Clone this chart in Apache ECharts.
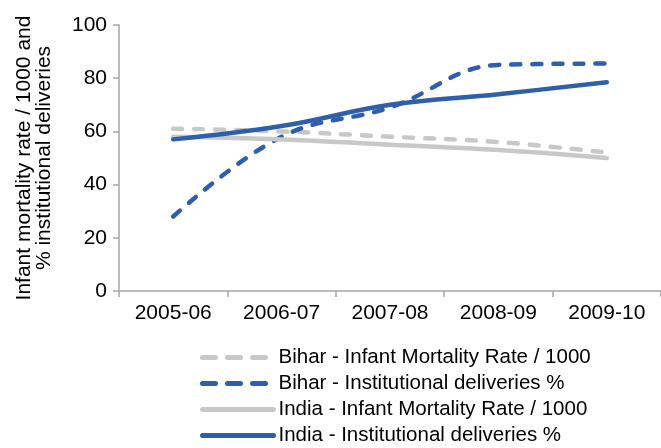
<!DOCTYPE html>
<html>
<head>
<meta charset="utf-8">
<script src="https://cdn.jsdelivr.net/npm/echarts@6/dist/echarts.min.js"></script>
<style>
  html, body { margin: 0; padding: 0; background: #fff; }
  #chart { width: 661px; height: 448px; }
</style>
</head>
<body>
<div id="chart"></div>
<script>
const years = ['2005-06', '2006-07', '2007-08', '2008-09', '2009-10'];
const biharImr = [61, 60, 58, 56, 52];
const biharInst = [28, 58, 69, 85, 85.5];
const indiaImr = [58, 57, 55, 53, 50];
const indiaInst = [57, 62, 70, 74, 78.5];

const GREY = '#c8c8c8';
const BLUE = '#2f5faa';
const FONT = 'Liberation Sans, Arial, sans-serif';

const mkLine = (name, data, color, dashed) => ({
    name,
    type: 'line',
    data,
    smooth: 0.4,
    symbol: 'none',
    lineStyle: {
        color,
        width: 4.5,
        type: dashed ? [9, 12] : 'solid',
        cap: 'round',
    },
    itemStyle: { color },
});

const legendDash = { type: [13, 12], width: 5, cap: 'round' };

const chart = echarts.init(document.getElementById('chart'));
chart.setOption({
    animation: false,
    textStyle: { fontFamily: FONT, color: '#000' },
    grid: { left: 119, right: 0, top: 25, bottom: 157, containLabel: false },
    legend: {
        orient: 'vertical',
        left: 200,
        top: 347,
        height: 120,
        padding: 0,
        itemWidth: 71,
        itemHeight: 20,
        itemGap: 5,
        // hide the marker dot, keep the line
        itemStyle: { opacity: 0 },
        lineStyle: { width: 5 },
        textStyle: { fontSize: 20.5, lineHeight: 20, color: '#000', fontFamily: FONT },
        data: [
            { name: 'Bihar - Infant Mortality Rate / 1000', lineStyle: legendDash },
            { name: 'Bihar - Institutional deliveries %', lineStyle: legendDash },
            'India - Infant Mortality Rate / 1000',
            'India - Institutional deliveries %',
        ],
    },
    xAxis: {
        type: 'category',
        data: years,
        boundaryGap: true,
        axisLine: { lineStyle: { color: '#a6a6a6', width: 1.5 } },
        axisTick: { show: true, length: 6, lineStyle: { color: '#a6a6a6', width: 1.5 } },
        axisLabel: { fontSize: 21, color: '#000', margin: 12 },
        splitLine: { show: false },
    },
    yAxis: {
        type: 'value',
        min: 0,
        max: 100,
        interval: 20,
        name: 'Infant mortality rate / 1000 and\n% institutional deliveries',
        nameLocation: 'middle',
        nameRotate: 90,
        nameGap: 65,
        nameTextStyle: { fontSize: 21, color: '#000', lineHeight: 20 },
        axisLine: { show: true, lineStyle: { color: '#a6a6a6', width: 1.5 } },
        axisTick: { show: true, length: 6, lineStyle: { color: '#a6a6a6', width: 1.5 } },
        axisLabel: { fontSize: 21, color: '#000', margin: 12 },
        splitLine: { show: false },
    },
    series: [
        mkLine('Bihar - Infant Mortality Rate / 1000', biharImr, GREY, true),
        mkLine('Bihar - Institutional deliveries %', biharInst, BLUE, true),
        mkLine('India - Infant Mortality Rate / 1000', indiaImr, GREY, false),
        mkLine('India - Institutional deliveries %', indiaInst, BLUE, false),
    ],
});
</script>
</body>
</html>
